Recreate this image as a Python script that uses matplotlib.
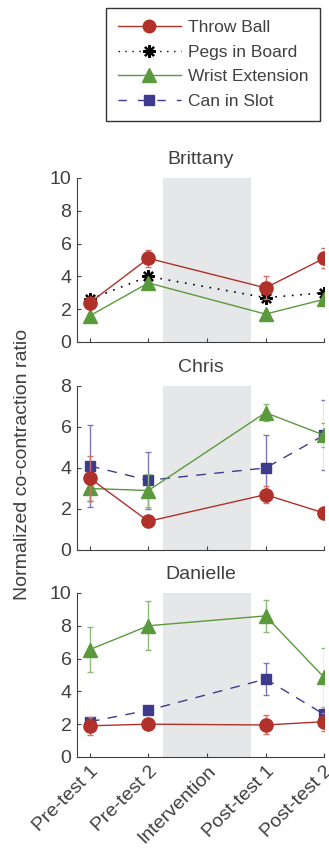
import matplotlib
matplotlib.use('Agg')
import matplotlib.pyplot as plt
from matplotlib.lines import Line2D
import numpy as np

plt.rcParams['font.family'] = ['Liberation Sans', 'DejaVu Sans']
plt.rcParams['text.color'] = '#404040'
plt.rcParams['axes.labelcolor'] = '#404040'
plt.rcParams['xtick.color'] = '#404040'
plt.rcParams['ytick.color'] = '#404040'

phases = ['Pre-test 1', 'Pre-test 2', 'Intervention', 'Post-test 1', 'Post-test 2']
x_pts = [0, 1, 3, 4]   # Intervention has no measurements

# Brittany
brit_throw = [2.4, 5.1, 3.3, 5.1]
brit_throw_err = [0.3, 0.5, 0.7, 0.6]
brit_pegs = [2.6, 4.0, 2.7, 3.0]
brit_wrist = [1.6, 3.6, 1.7, 2.6]
brit_wrist_err = [0.1, 0.2, 0.1, 0.2]

# Chris
chris_throw = [3.5, 1.4, 2.7, 1.8]
chris_throw_err = [1.1, 0.1, 0.4, 0.1]
chris_can = [4.1, 3.4, 4.0, 5.6]
chris_can_err = [2.0, 1.4, 1.6, 1.7]
chris_wrist = [3.0, 2.9, 6.7, 5.6]
chris_wrist_err = [0.6, 0.8, 0.4, 0.6]

# Danielle
dan_throw = [1.9, 2.0, 1.95, 2.15]
dan_throw_err = [0.55, 0.05, 0.58, 0.55]
dan_can = [2.15, 2.85, 4.75, 2.6]
dan_can_err = [0.2, 0.05, 0.95, 0.3]
dan_wrist = [6.55, 8.0, 8.6, 4.85]
dan_wrist_err = [1.4, 1.5, 1.0, 1.8]

red = '#B0302A'
red_l = '#D0706A'
green = '#5A9A3C'
green_l = '#8DBB78'
blue = '#3E3A8E'
blue_l = '#7C77BF'
shade = '#E6E7E8'
dark = '#404040'
fs = 14
asterisk = (8, 2, 0)

fig = plt.figure(figsize=(3.29, 8.56), dpi=100)
left, width = 0.234, 0.751
boxes = [(0.6005, 0.1916), (0.3575, 0.1916), (0.1157, 0.1916)]
axes = [fig.add_axes([left, b, width, h]) for b, h in boxes]


def throw(ax, y, e):
    ax.errorbar(x_pts, y, yerr=e, color=red, ecolor=red_l, elinewidth=1, capsize=2.5,
                marker='o', ms=9.5, lw=1, zorder=4)


def wrist(ax, y, e):
    ax.errorbar(x_pts, y, yerr=e, color=green, ecolor=green_l, elinewidth=1, capsize=2.5,
                marker='^', ms=10, lw=1, zorder=3)


def can(ax, y, e):
    ax.errorbar(x_pts, y, yerr=e, color=blue, ecolor=blue_l, elinewidth=1, capsize=2.5,
                marker='s', ms=7.5, lw=1, dashes=(7, 6), zorder=2)


def pegs(ax, y):
    ax.plot(x_pts, y, color='black', lw=1.2, dashes=(1, 4), marker=asterisk, ms=9,
            mew=1.6, zorder=3)


ax = axes[0]
wrist(ax, brit_wrist, brit_wrist_err)
pegs(ax, brit_pegs)
throw(ax, brit_throw, brit_throw_err)
ax.set_ylim(0, 10)
ax.set_yticks([0, 2, 4, 6, 8, 10])
ax.set_title('Brittany', fontsize=fs, color=dark, pad=10)

ax = axes[1]
can(ax, chris_can, chris_can_err)
throw(ax, chris_throw, chris_throw_err)
wrist(ax, chris_wrist, chris_wrist_err)
ax.set_ylim(0, 8)
ax.set_yticks([0, 2, 4, 6, 8])
ax.set_title('Chris', fontsize=fs, color=dark, pad=10)

ax = axes[2]
throw(ax, dan_throw, dan_throw_err)
can(ax, dan_can, dan_can_err)
wrist(ax, dan_wrist, dan_wrist_err)
ax.set_ylim(0, 10)
ax.set_yticks([0, 2, 4, 6, 8, 10])
ax.set_title('Danielle', fontsize=fs, color=dark, pad=10)

for i, ax in enumerate(axes):
    ax.axvspan(1.25, 2.75, color=shade, zorder=0, lw=0)
    ax.set_xlim(-0.22, 4)
    ax.set_xticks(range(len(phases)))
    ax.spines['top'].set_visible(False)
    ax.spines['right'].set_visible(False)
    ax.spines['left'].set_color(dark)
    ax.spines['bottom'].set_color(dark)
    ax.tick_params(direction='in', length=3, labelsize=fs, pad=4)
    if i < 2:
        ax.set_xticklabels([])
    else:
        ax.set_xticklabels(phases, rotation=45, ha='right', rotation_mode='anchor')

fig.text(0.067, 0.457, 'Normalized co-contraction ratio', rotation=90,
         ha='center', va='center', fontsize=fs, color=dark)

handles = [
    Line2D([], [], color=red, marker='o', ms=9, lw=1),
    Line2D([], [], color='black', dashes=(1, 4), marker=asterisk, ms=9, mew=1.6, lw=1),
    Line2D([], [], color=green, marker='^', ms=9.5, lw=1),
    Line2D([], [], color=blue, marker='s', ms=7, lw=1, dashes=(6, 8)),
]
labels = ['Throw Ball', 'Pegs in Board', 'Wrist Extension', 'Can in Slot']
leg = fig.legend(handles, labels, loc='upper left', bbox_to_anchor=(0.322, 0.991),
                 fontsize=12.5, handlelength=3.6, frameon=True, fancybox=False,
                 borderpad=0.7, labelspacing=0.55, handletextpad=0.4,
                 borderaxespad=0)
leg.get_frame().set_edgecolor('black')
leg.get_frame().set_linewidth(1)
for t in leg.get_texts():
    t.set_color(dark)

fig.savefig('out.png', dpi=100)
